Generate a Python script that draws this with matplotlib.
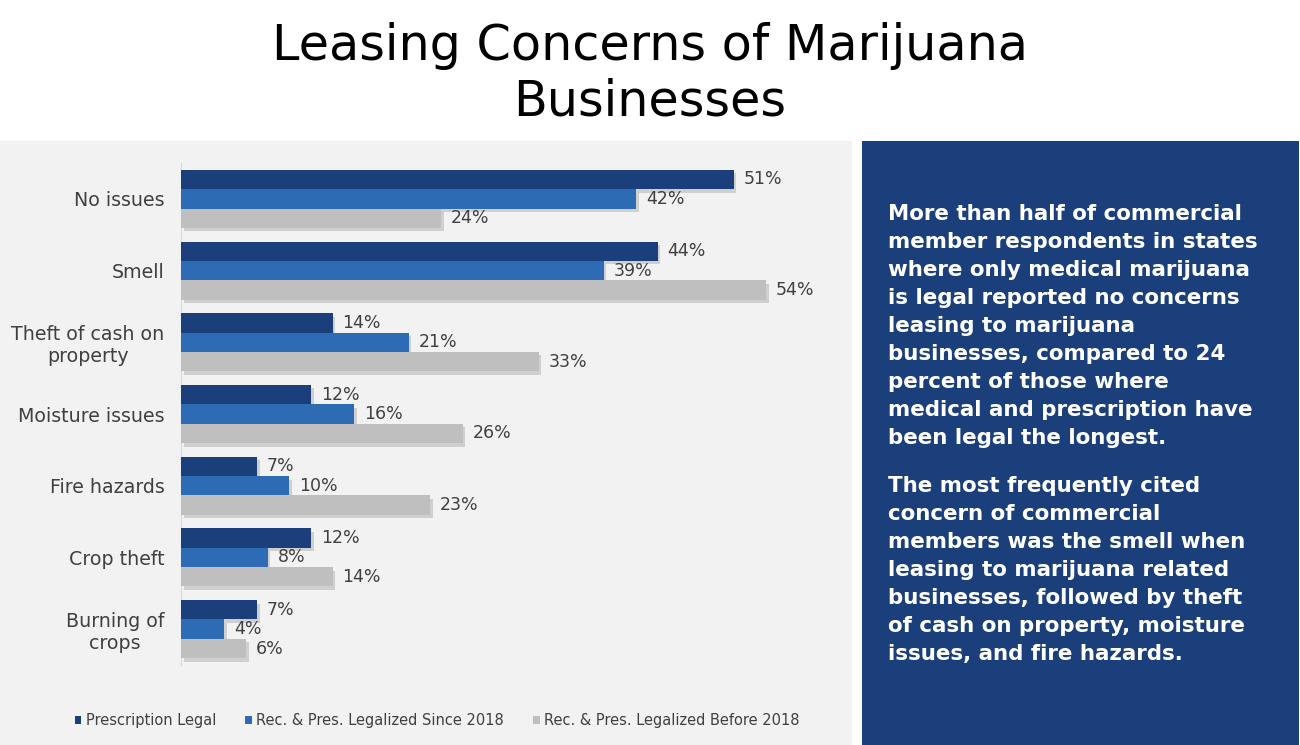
import numpy as np
import matplotlib
matplotlib.use("Agg")
from matplotlib import pyplot as plt
from matplotlib import patheffects as pe
from matplotlib.patches import Rectangle

categories = ["No issues", "Smell", "Theft of cash on\nproperty", "Moisture issues",
              "Fire hazards", "Crop theft", "Burning of\ncrops"]
prescription = [51, 44, 14, 12, 7, 12, 7]
since_2018 = [42, 39, 21, 16, 10, 8, 4]
before_2018 = [24, 54, 33, 26, 23, 14, 6]
series_names = ["Prescription Legal", "Rec. & Pres. Legalized Since 2018",
                "Rec. & Pres. Legalized Before 2018"]
colors = ["#1B3F7A", "#2E6BB5", "#BFBFBF"]

title = "Leasing Concerns of Marijuana\nBusinesses"
note_1 = ("More than half of commercial\nmember respondents in states\n"
          "where only medical marijuana\nis legal reported no concerns\n"
          "leasing to marijuana\nbusinesses, compared to 24\n"
          "percent of those where\nmedical and prescription have\n"
          "been legal the longest.")
note_2 = ("The most frequently cited\nconcern of commercial\n"
          "members was the smell when\nleasing to marijuana related\n"
          "businesses, followed by theft\nof cash on property, moisture\n"
          "issues, and fire hazards.")

W, H = 1300, 745
fig = plt.figure(figsize=(W / 100, H / 100), dpi=100)
fig.patch.set_facecolor("white")

# panels behind everything
fig.patches.append(Rectangle((0, 0), 852 / W, 604 / H, transform=fig.transFigure,
                             facecolor="#F2F2F2", edgecolor="none", zorder=-10))
fig.patches.append(Rectangle((862 / W, 0), 437 / W, 604 / H, transform=fig.transFigure,
                             facecolor="#1B3F7A", edgecolor="none", zorder=-10))

fig.text(650 / W, 1 - 74 / H, title, ha="center", va="center", fontsize=35.5,
         family="DejaVu Sans", color="black", linespacing=1.2)

ax = fig.add_axes([181 / W, 1 - 665 / H, 650 / W, 502 / H])
ax.set_facecolor("none")
n = len(categories)
y = np.arange(n)
bh = 0.27
shadow = [pe.SimplePatchShadow(offset=(2, -2.5), shadow_rgbFace="#7F7F7F", alpha=0.3), pe.Normal()]
for i, (vals, c) in enumerate(zip([prescription, since_2018, before_2018], colors)):
    ypos = y + (i - 1) * bh
    bars = ax.barh(ypos, vals, height=bh, color=c, label=series_names[i], zorder=3)
    for b in bars:
        b.set_path_effects(shadow)
    for yy, v in zip(ypos, vals):
        ax.text(v + 0.9, yy, f"{v}%", va="center", ha="left", fontsize=12.5,
                color="#404040", zorder=4)

ax.set_ylim(n - 0.5, -0.5)
ax.set_xlim(0, 60)
ax.set_yticks(y)
ax.set_yticklabels(categories, fontsize=13.7, color="#404040", multialignment="center")
ax.tick_params(axis="y", length=0, pad=12)
ax.set_xticks([])
for s in ["top", "right", "bottom"]:
    ax.spines[s].set_visible(False)
ax.spines["left"].set_color("#D9D9D9")

handles = [Rectangle((0, 0), 1, 1, facecolor=c, edgecolor="none") for c in colors]
fig.legend(handles, series_names, loc="center", bbox_to_anchor=(437 / W, 1 - 721 / H), ncol=3,
           frameon=False, fontsize=10.5, labelcolor="#404040", handlelength=0.45,
           handleheight=0.45, handletextpad=0.3, columnspacing=2.0)

fig.text(888 / W, 1 - 204 / H, note_1, ha="left", va="top", fontsize=15.4,
         fontweight="bold", color="white", linespacing=1.5)
fig.text(888 / W, 1 - 476 / H, note_2, ha="left", va="top", fontsize=15.4,
         fontweight="bold", color="white", linespacing=1.5)

fig.savefig("out.png", dpi=100)
